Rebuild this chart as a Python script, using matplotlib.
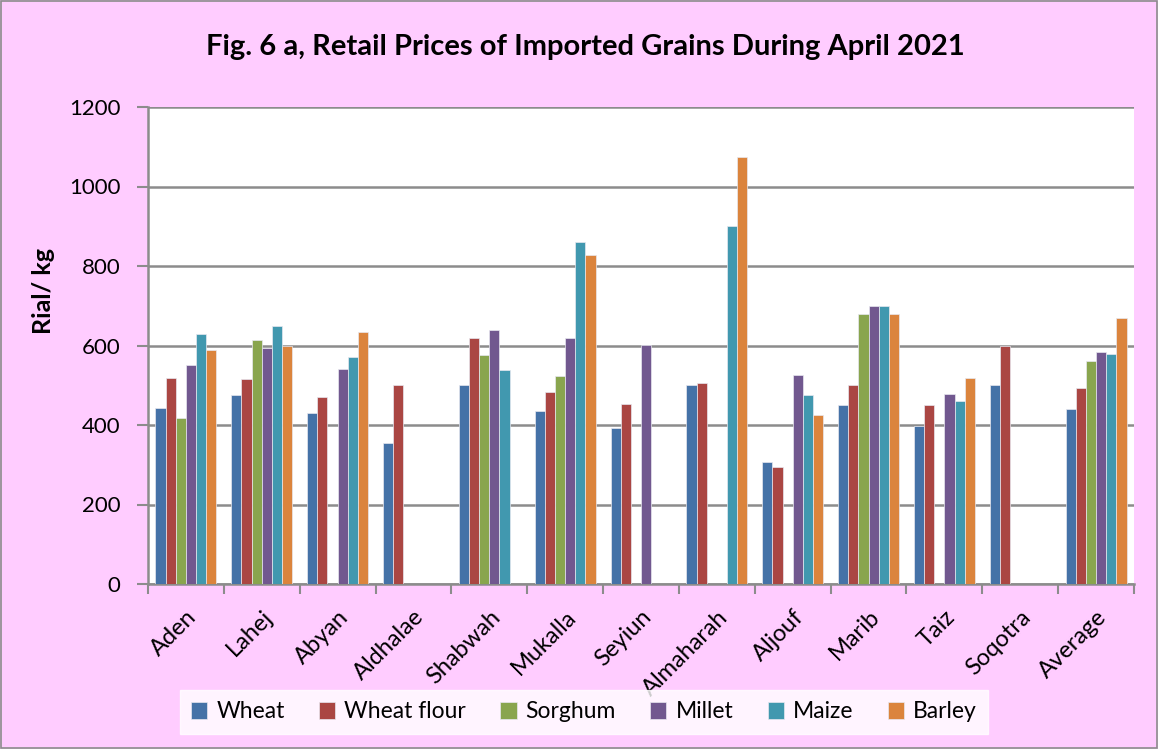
import matplotlib.pyplot as plt
import numpy as np
from matplotlib.patches import Rectangle

# values (Rial/kg); None = no bar
regions = ['Aden', 'Lahej', 'Abyan', 'Aldhalae', 'Shabwah', 'Mukalla', 'Seyiun',
           'Almaharah', 'Aljouf', 'Marib', 'Taiz', 'Soqotra', 'Average']
wheat = [442, 475, 429, 355, 500, 434, 393, 500, 306, 450, 397, 500, 439]
wheat_flour = [517, 515, 470, 500, 620, 483, 453, 506, 295, 501, 450, 600, 492]
sorghum = [417, 614, None, None, 575, 523, None, None, None, 680, None, None, 561]
millet = [551, 594, 540, None, 639, 618, 601, None, 526, 700, 477, None, 583]
maize = [629, 650, 571, None, 538, 860, None, 901, 475, 700, 460, None, 579]
barley = [589, 600, 633, None, None, 827, None, 1075, 425, 680, 517, None, 668]

series = ['Wheat', 'Wheat flour', 'Sorghum', 'Millet', 'Maize', 'Barley']
values = [wheat, wheat_flour, sorghum, millet, maize, barley]
colors = ['#4572A7', '#AA4643', '#89A54E', '#71588F', '#4198AF', '#DB843D']

plt.rcParams['font.family'] = ['Lato', 'DejaVu Sans']

fig = plt.figure(figsize=(11.58, 7.49), dpi=100)
fig.patch.set_facecolor('#FFCCFF')
fig.patches.append(Rectangle((0.001, 0.001), 0.998, 0.997, transform=fig.transFigure,
                             fill=False, edgecolor='#8C8C8C', linewidth=1.2))

ax = fig.add_axes([148 / 1158, 1 - 584 / 749, 986 / 1158, 477 / 749])
ax.set_facecolor('white')

x = np.arange(len(regions))
w = 0.134
for i, (name, vals, c) in enumerate(zip(series, values, colors)):
    v = np.array([np.nan if a is None else a for a in vals], dtype=float)
    ax.bar(x + (i - 2.5) * w, v, width=w, color=c, edgecolor='#E8E8F0',
           linewidth=0.5, label=name, zorder=3)

ax.set_xlim(-0.5, len(regions) - 0.5)
ax.set_ylim(0, 1200)
ax.set_yticks(np.arange(0, 1201, 200))
ax.yaxis.grid(True, color='#8C8C8C', linewidth=1.8, zorder=0)
ax.set_axisbelow(True)

for s in ['top', 'right']:
    ax.spines[s].set_visible(False)
for s in ['left', 'bottom']:
    ax.spines[s].set_color('#8C8C8C')
    ax.spines[s].set_linewidth(1.8)

ax.set_xticks(x)
ax.set_xticklabels(regions, rotation=45, ha='right', rotation_mode='anchor',
                   fontsize=17)
ax.set_xticks(np.arange(-0.5, len(regions), 1), minor=True)
ax.tick_params(axis='x', which='major', length=0, pad=16)
ax.tick_params(axis='x', which='minor', length=7, width=1.5, color='#8C8C8C')
ax.tick_params(axis='y', length=8, width=1.5, color='#8C8C8C', labelsize=16, pad=12)

ax.set_ylabel('Rial/ kg', fontsize=18, fontweight='bold')
ax.yaxis.set_label_coords(-0.094, 0.615)

fig.text(585 / 1158, 1 - 47 / 749, 'Fig. 6 a, Retail Prices of Imported Grains During April 2021',
         ha='center', va='center', fontsize=21, fontweight='bold')

leg = fig.legend(loc='center', bbox_to_anchor=(584 / 1158, 1 - 712 / 749), ncol=6,
                 fontsize=16.5, frameon=True, fancybox=False, handlelength=0.7,
                 handleheight=0.7, handletextpad=0.4, columnspacing=1.5,
                 borderpad=0.5)
leg.get_frame().set_facecolor('white')
leg.get_frame().set_edgecolor('white')

fig.savefig('out.png', dpi=100, facecolor=fig.get_facecolor())
